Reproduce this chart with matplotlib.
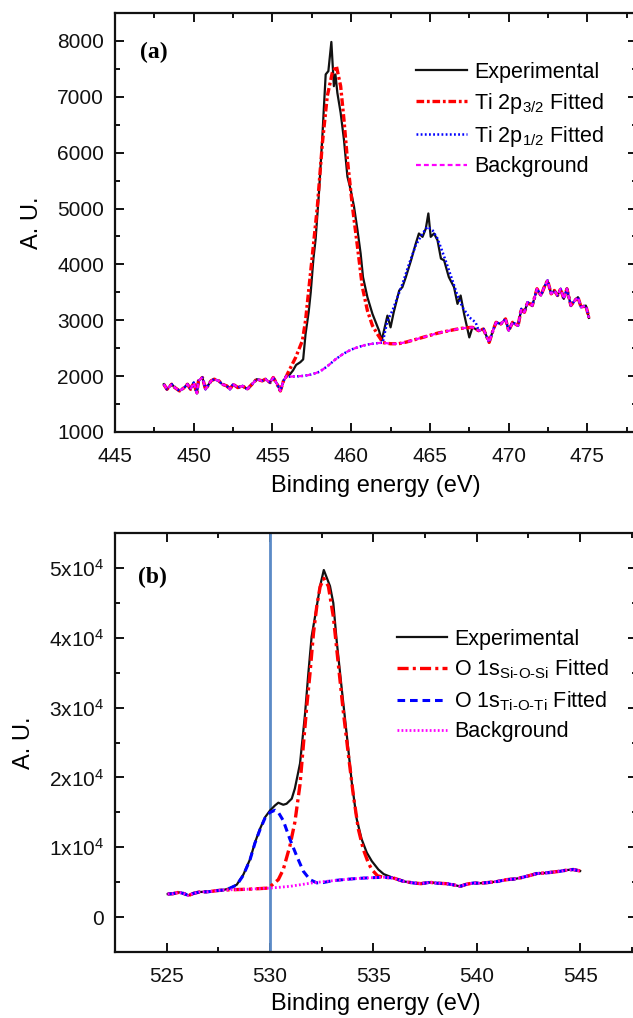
import numpy as np
import matplotlib
matplotlib.use('Agg')
import matplotlib.pyplot as plt
from matplotlib.ticker import MultipleLocator, FuncFormatter

plt.rcParams['font.family'] = ['Liberation Sans', 'DejaVu Sans']
plt.rcParams['mathtext.fontset'] = 'custom'
plt.rcParams['mathtext.rm'] = 'Liberation Sans'
plt.rcParams['mathtext.it'] = 'Liberation Sans:italic'
plt.rcParams['mathtext.bf'] = 'Liberation Sans:bold'
plt.rcParams['lines.scale_dashes'] = False

# ---------------- panel (a): Ti 2p ----------------
# experimental, left flat noisy part
ea_left = [448.1, 448.3, 448.6, 448.8, 449.1, 449.4, 449.6, 449.8, 450.0, 450.2,
           450.3, 450.55, 450.75, 451.1, 451.3, 451.6, 451.8, 452.1, 452.3, 452.5,
           452.8, 453.1, 453.4, 453.7, 454.0, 454.35, 454.55, 454.85, 455.05, 455.3,
           455.5, 455.7, 455.9]
ia_left = [1855, 1765, 1855, 1795, 1735, 1795, 1855, 1765, 1885, 1690,
           1915, 1975, 1765, 1915, 1945, 1915, 1855, 1825, 1765, 1855,
           1795, 1825, 1765, 1855, 1945, 1915, 1945, 1885, 1975, 1855,
           1735, 1915, 2005]
# experimental, the two peaks
ea_peak = [456.1, 456.3, 456.5, 456.77, 456.95, 457.1, 457.3, 457.43, 457.6, 457.74,
           457.95, 458.17, 458.27, 458.38, 458.55, 458.74, 458.9, 459.0, 459.12, 459.33,
           459.54, 459.76, 459.97, 460.18, 460.4, 460.6, 460.75, 461.03, 461.35, 461.56,
           461.77, 461.94, 462.3, 462.5, 462.7, 463.05, 463.25, 463.47, 463.8, 464.1,
           464.3, 464.53, 464.74, 464.9, 465.05, 465.26, 465.48, 465.7, 465.9, 466.2,
           466.53, 466.75, 466.95, 467.17, 467.5]
ia_peak = [2030, 2100, 2200, 2250, 2300, 2750, 3150, 3500, 4100, 4450,
           5273, 6291, 6831, 7401, 7460, 7982, 7190, 7400, 7072, 6712,
           6232, 5571, 5332, 5032, 4612, 4193, 3772, 3413, 3114, 2963,
           2813, 2640, 3083, 2873, 3143, 3533, 3593, 3773, 4073, 4372,
           4553, 4493, 4643, 4912, 4493, 4553, 4433, 4103, 4073, 3773,
           3593, 3293, 3443, 3113, 2693]
# experimental, right noisy part
ea_right = [467.7, 468.1, 468.4, 468.76, 469.0, 469.2, 469.5, 469.8, 470.0, 470.25,
            470.6, 470.8, 471.0, 471.2, 471.5, 471.8, 472.05, 472.26, 472.47, 472.7,
            472.9, 473.1, 473.3, 473.5, 473.7, 473.95, 474.2, 474.4, 474.6, 474.9,
            475.1]
ia_right = [2873, 2813, 2843, 2604, 2813, 2963, 2933, 3024, 2813, 2963,
            2903, 3204, 3143, 3323, 3263, 3563, 3443, 3593, 3713, 3473,
            3533, 3443, 3563, 3383, 3563, 3263, 3353, 3413, 3233, 3263,
            3043]
# smooth background under the peaks
bga_e = [456.0, 456.5, 457.0, 457.5, 458.0, 458.5, 459.0, 459.5, 460.0, 460.5,
         461.0, 461.5, 462.0, 462.5, 463.0, 463.5, 464.0, 464.5, 465.0, 465.5,
         466.0, 466.5, 467.0, 467.5]
bga_i = [1990, 1995, 2005, 2030, 2080, 2180, 2300, 2400, 2475, 2525,
         2565, 2585, 2600, 2580, 2580, 2610, 2650, 2690, 2730, 2770,
         2800, 2830, 2855, 2870]
# Ti 2p3/2 fitted peak
p32_e = [455.94, 456.47, 456.9, 457.1, 457.5, 457.85, 458.17, 458.48, 458.8, 459.06,
         459.33, 459.54, 459.76, 460.08, 460.4, 460.71, 461.03, 461.35, 461.66, 461.87]
p32_i = [2034, 2333, 2634, 2994, 4073, 5032, 6172, 7010, 7431, 7550,
         7190, 6591, 5871, 5032, 4312, 3593, 3173, 2903, 2754, 2664]
# Ti 2p1/2 fitted peak
p12_e = [462.0, 462.3, 462.62, 462.94, 463.26, 463.68, 464.1, 464.53, 464.84, 465.16,
         465.48, 465.8, 466.1, 466.43, 466.75, 467.07, 467.5, 467.9]
p12_i = [2600, 2993, 3173, 3413, 3654, 4013, 4343, 4553, 4672, 4612,
         4463, 4222, 3983, 3713, 3443, 3233, 3053, 2963]

# ---------------- panel (b): O 1s ----------------
eb_exp = [525.05, 525.3, 525.6, 525.85, 526.05, 526.3, 526.6, 527.0, 527.4, 527.75,
          528.07, 528.39, 528.71, 529.03, 529.27, 529.51, 529.76, 530.0, 530.24, 530.4,
          530.64, 530.8, 531.05, 531.2, 531.45, 531.69, 531.85, 532.01, 532.26, 532.42,
          532.6, 532.9, 533.06, 533.22, 533.46, 533.71, 533.95, 534.19, 534.43, 534.68,
          534.92, 535.24, 535.5, 535.96, 536.45, 536.93, 537.3, 537.74, 538.1, 538.55,
          538.9, 539.19, 539.5, 539.83, 540.2, 540.64, 541.0, 541.45, 541.8, 542.09,
          542.5, 542.9, 543.38, 543.7, 544.03, 544.4, 544.67, 545.0]
ib_exp = [3300, 3350, 3550, 3350, 3080, 3400, 3600, 3620, 3780, 3880,
          4154, 4638, 6087, 8261, 10676, 12609, 14300, 15266, 15990, 16377,
          16087, 16232, 16957, 18406, 22000, 29029, 34826, 40145, 44493, 47391,
          49700, 47391, 44971, 39653, 32899, 26130, 19372, 14058, 11159, 9227,
          8019, 6812, 6150, 5608, 5120, 4884, 4790, 4976, 4850, 4783,
          4600, 4396, 4700, 4880, 4850, 4976, 5100, 5362, 5450, 5604,
          5900, 6232, 6333, 6450, 6565, 6750, 6812, 6600]
bgb_e = [528.1, 528.5, 529.0, 529.5, 530.0, 530.5, 531.0, 531.5, 532.0, 532.5,
         533.0, 533.5, 534.0, 534.5, 535.0, 535.5]
bgb_i = [3910, 3950, 4000, 4080, 4154, 4280, 4420, 4650, 4880, 5050,
         5200, 5350, 5480, 5580, 5650, 5700]
sio_e = [529.92, 530.4, 530.64, 530.96, 531.2, 531.45, 531.6, 531.77, 531.93, 532.1,
         532.26, 532.42, 532.6, 532.82, 533.06, 533.3, 533.54, 533.79, 534.03, 534.27,
         534.51, 534.75, 534.92, 535.2]
sio_i = [4154, 5362, 6812, 10188, 13575, 19000, 24203, 30000, 34826, 40623,
         44493, 47300, 48500, 47391, 43043, 36280, 29522, 23232, 17435, 12609,
         9710, 7783, 6812, 5900]
tio_e = [528.07, 528.39, 528.71, 529.03, 529.27, 529.51, 529.76, 530.0, 530.24, 530.4,
         530.64, 530.96, 531.29, 531.61, 531.93, 532.26, 532.58]
tio_i = [4154, 4600, 6000, 8200, 10600, 12500, 14200, 15000, 15300, 15000,
         13816, 11159, 8739, 6565, 5362, 4900, 4950]


def splice(*parts):
    # parts: (x, y, lo, hi) -> keep points with lo <= x <= hi
    xs, ys = [], []
    for x, y, lo, hi in parts:
        x = np.asarray(x, float)
        y = np.asarray(y, float)
        m = (x >= lo) & (x <= hi)
        xs.append(x[m])
        ys.append(y[m])
    return np.concatenate(xs), np.concatenate(ys)


inf = 1e9
# panel (a) curves
exp_a = splice((ea_left, ia_left, -inf, inf), (ea_peak, ia_peak, -inf, inf),
               (ea_right, ia_right, -inf, inf))
red_a = splice((ea_left, ia_left, -inf, inf), (p32_e, p32_i, -inf, inf),
               (bga_e, bga_i, 462.0, inf), (ea_right, ia_right, -inf, inf))
blue_a = splice((ea_left, ia_left, -inf, inf), (bga_e, bga_i, -inf, 461.9),
                (p12_e, p12_i, -inf, inf), (ea_right, ia_right, 468.0, inf))
bg_a = splice((ea_left, ia_left, -inf, inf), (bga_e, bga_i, -inf, inf),
              (ea_right, ia_right, -inf, inf))

# panel (b) curves
exp_b = (np.array(eb_exp), np.array(ib_exp))
red_b = splice((eb_exp, ib_exp, -inf, 527.8), (bgb_e, bgb_i, -inf, 529.6),
               (sio_e, sio_i, -inf, inf), (bgb_e, bgb_i, 535.4, inf),
               (eb_exp, ib_exp, 535.9, inf))
blue_b = splice((eb_exp, ib_exp, -inf, 527.8), (tio_e, tio_i, -inf, inf),
                (bgb_e, bgb_i, 532.9, inf), (eb_exp, ib_exp, 535.9, inf))
bg_b = splice((eb_exp, ib_exp, -inf, 527.8), (bgb_e, bgb_i, -inf, inf),
              (eb_exp, ib_exp, 535.9, inf))

fig = plt.figure(figsize=(6.33, 10.18), dpi=100)
ax1 = fig.add_axes([115 / 633, 1 - 432 / 1018, 522 / 633, 419 / 1018])
ax2 = fig.add_axes([115 / 633, 1 - 952 / 1018, 522 / 633, 419 / 1018])

ax1.plot(*exp_a, color='#111111', lw=1.6, label='Experimental')
ax1.plot(*red_a, color='#ff0000', lw=2.4, dashes=(5.5, 2.0, 2.0, 2.0),
         label=r'Ti 2p$_{3/2}$ Fitted')
ax1.plot(*blue_a, color='#0000ff', lw=1.8, dashes=(1.3, 1.7),
         label=r'Ti 2p$_{1/2}$ Fitted')
ax1.plot(*bg_a, color='#ff00ff', lw=1.6, dashes=(3.5, 2.2), label='Background')

ax2.axvline(530, color='#5b8ac6', lw=2.0)
ax2.plot(*exp_b, color='#111111', lw=1.6, label='Experimental')
ax2.plot(*red_b, color='#ff0000', lw=2.4, dashes=(8.0, 3.0, 2.2, 3.0),
         label=r'O 1s$_{\mathrm{Si\text{-}O\text{-}Si}}$ Fitted')
ax2.plot(*blue_b, color='#0000ff', lw=2.2, dashes=(5.5, 3.5),
         label=r'O 1s$_{\mathrm{Ti\text{-}O\text{-}Ti}}$ Fitted')
ax2.plot(*bg_b, color='#ff00ff', lw=2.0, dashes=(1.3, 1.6), label='Background')

ax1.set_xlim(445, 478.15)
ax1.set_ylim(1000, 8500)
ax1.xaxis.set_major_locator(MultipleLocator(5))
ax1.xaxis.set_minor_locator(MultipleLocator(2.5))
ax1.yaxis.set_major_locator(MultipleLocator(1000))
ax1.yaxis.set_minor_locator(MultipleLocator(500))

ax2.set_xlim(522.5, 547.75)
ax2.set_ylim(-5000, 55000)
ax2.xaxis.set_major_locator(MultipleLocator(5))
ax2.xaxis.set_minor_locator(MultipleLocator(2.5))
ax2.yaxis.set_major_locator(MultipleLocator(10000))
ax2.yaxis.set_minor_locator(MultipleLocator(5000))
ax2.yaxis.set_major_formatter(FuncFormatter(
    lambda v, p: '0' if abs(v) < 1 else '%dx10$^{4}$' % round(v / 1e4)))

for ax in (ax1, ax2):
    for s in ax.spines.values():
        s.set_linewidth(1.6)
        s.set_color('#111111')
    ax.tick_params(which='both', direction='in', top=True, right=True,
                   width=1.4, labelsize=15, colors='#111111', pad=8)
    ax.tick_params(axis='x', which='both', pad=11)
    ax.tick_params(which='major', length=6.5)
    ax.tick_params(which='minor', length=3.6)
    ax.set_xlabel('Binding energy (eV)', fontsize=17, labelpad=6)
    ax.set_ylabel('A. U.', fontsize=17, labelpad=10)
ax2.xaxis.labelpad = 5

ax1.text(0.048, 0.907, '(a)', transform=ax1.transAxes, fontsize=17,
         fontweight='bold', family='Liberation Serif', va='center')
ax2.text(0.044, 0.895, '(b)', transform=ax2.transAxes, fontsize=17,
         fontweight='bold', family='Liberation Serif', va='center')

ax1.legend(loc='upper left', bbox_to_anchor=(0.577, 0.883), frameon=False,
           fontsize=15.5, handlelength=2.35, handletextpad=0.35, labelspacing=0.36,
           borderpad=0, borderaxespad=0)
ax2.legend(loc='upper left', bbox_to_anchor=(0.54, 0.772), frameon=False,
           fontsize=15.5, handlelength=2.35, handletextpad=0.3, labelspacing=0.38,
           borderpad=0, borderaxespad=0)

fig.savefig('out.png', dpi=100)
